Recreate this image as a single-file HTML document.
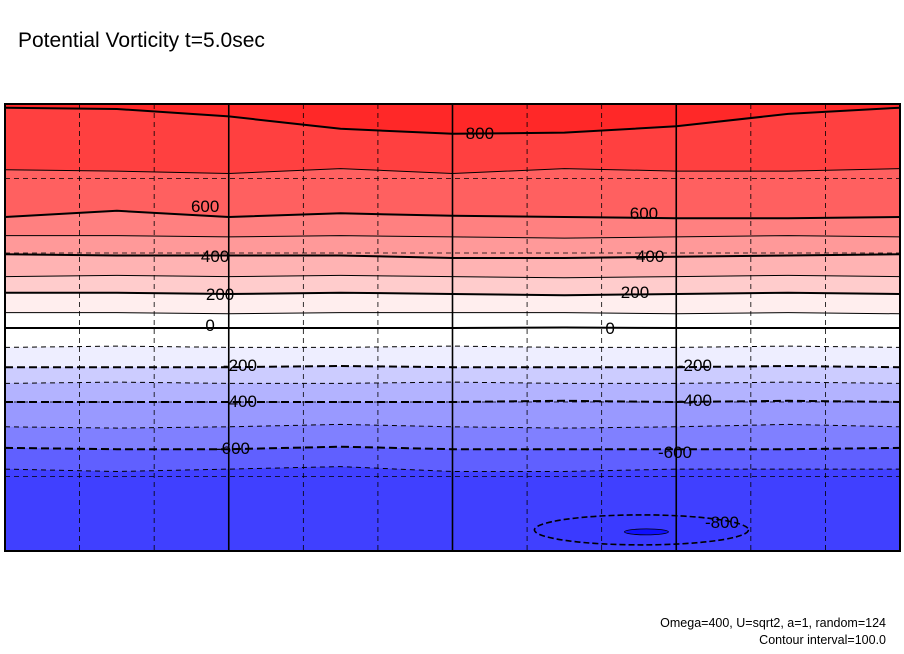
<!DOCTYPE html>
<html><head><meta charset="utf-8">
<style>
body{margin:0;background:#fff;width:904px;height:654px;overflow:hidden;font-family:"Liberation Sans",sans-serif}
svg{display:block}
</style></head>
<body>
<svg id="chart" width="904" height="654" viewBox="0 0 904 654">
<text x="18" y="47" font-size="21" font-family="Liberation Sans, sans-serif" fill="#000">Potential Vorticity t=5.0sec</text>
<g id="plot"></g>
<text x="886" y="627" font-size="12.5" text-anchor="end" fill="#000">Omega=400, U=sqrt2, a=1, random=124</text>
<text x="886" y="644" font-size="12.5" text-anchor="end" fill="#000">Contour interval=100.0</text>
</svg>
<script>
const levels=[-700,-600,-500,-400,-300,-200,-100,0,100,200,300,400,500,600,700,800];
const lons=[0,45,90,135,180,225,270,315,360];
const lat_m700=[-57,-58,-57,-56,-58,-58,-57,-57,-57];
const lat_m600=[-48.5,-49,-49,-48,-49,-49,-49,-49,-48.5];
const lat_m500=[-40,-40.5,-40,-39,-40,-40.5,-40,-39,-40];
const lat_m400=[-30,-30,-30,-30,-30,-29.5,-30,-29.5,-30];
const lat_m300=[-22.5,-22,-22.5,-22.5,-22,-22.5,-22.5,-22,-22.5];
const lat_m200=[-16,-16,-16,-15.5,-16,-16,-16,-15.5,-16];
const lat_m100=[-8,-7.5,-8,-8,-7.5,-8,-8,-7.5,-8];
const lat_0=[-0.2,-0.2,-0.2,-0.2,-0.2,0,-0.2,-0.2,-0.2];
const lat_100=[6,6,5.5,6,6,6,5.5,6,5.5];
const lat_200=[14,14,13.5,14,13.5,13,13.5,14,13.5];
const lat_300=[20.5,21,20.5,21,20.5,20,20.5,21,20.5];
const lat_400=[29.5,29,29,29,28,28,28.5,29,29.5];
const lat_500=[37,37,36.5,37,36.5,36,36.5,37,36.5];
const lat_600=[44.5,47,44.5,46,45,44.5,44,44,44.5];
const lat_700=[63.5,63,62,64,62,64,63,63,64];
const lat_800=[88.5,88,85,80,78,78.5,81,86,88.5];
const lines=[lat_m700,lat_m600,lat_m500,lat_m400,lat_m300,lat_m200,lat_m100,lat_0,lat_100,lat_200,lat_300,lat_400,lat_500,lat_600,lat_700,lat_800];
const bandColors=["#4040ff","#6060ff","#8080ff","#9999ff","#b3b3ff","#ccccff","#eeeeff","#ffffff","#ffffff","#ffeeee","#ffcccc","#ffb3b3","#ff9999","#ff8080","#ff6060","#ff4040","#ff2828"];
const labelLevels=[800,600,600,400,400,200,200,0,0,-200,-200,-400,-400,-600,-600,-800];
const labelLons=[191,80.5,257,84.5,259.5,86.5,253.4,82.5,243.4,94.5,277.5,94.5,277.5,91.7,269.5,288.4];
const labelLats=[78.4,49,46.2,28.8,28.8,13.5,14.3,1,-0.2,-15.1,-15.1,-29.6,-29.2,-48.5,-50.1,-78.3];
const minLevel=[-800], minLon=[256], minLat=[-81.5];
const X0=5,X1=900,Y0=104,Y1=551;
const xS=l=>X0+(l/360)*(X1-X0);
const yS=a=>Y0+(90-a)/180*(Y1-Y0);
const NS="http://www.w3.org/2000/svg";
const g=document.getElementById('plot');
function mk(t,a){const e=document.createElementNS(NS,t);for(const k in a)e.setAttribute(k,a[k]);g.appendChild(e);return e;}
function linePts(arr){return arr.map((a,i)=>xS(lons[i]).toFixed(1)+','+yS(a).toFixed(1));}
let bg=mk('rect',{x:X0,y:Y0,width:X1-X0,height:Y1-Y0,fill:bandColors[0]});


lines.forEach((arr,i)=>{
  const p=mk('polygon',{points:xS(0)+','+Y0+' '+linePts(arr).join(' ')+' '+xS(360)+','+Y0,fill:bandColors[i+1]});
  
  
});
minLevel.forEach((v,i)=>{
  const e=mk('ellipse',{cx:xS(minLon[i]),cy:yS(minLat[i]),rx:107,ry:15,fill:'#3a3aff',stroke:'#000','stroke-width':1.6,'stroke-dasharray':'6,3'});
  
  
  const e2=mk('ellipse',{cx:xS(minLon[i])+5,cy:yS(minLat[i])+2,rx:22,ry:3,fill:'#1010ff',stroke:'#000','stroke-width':0.8});
  
  
});
lines.forEach((arr,i)=>{
  const lv=levels[i];
  const thick=(lv%200===0);
  const a={points:linePts(arr).join(' '),fill:'none',stroke:'#000','stroke-width':thick?2:1};
  if(lv<0)a['stroke-dasharray']=thick?'8,4':'5,4';
  const p=mk('polyline',a);
  
  
});
[30,60,120,150,210,240,300,330].forEach(l=>{const e=mk('line',{x1:xS(l),x2:xS(l),y1:Y0,y2:Y1,stroke:'#000','stroke-width':0.8,'stroke-dasharray':'5,4'});
});
[90,180,270].forEach(l=>{const e=mk('line',{x1:xS(l),x2:xS(l),y1:Y0,y2:Y1,stroke:'#000','stroke-width':1.6});
});
[60,30,0,-30,-60].forEach(a=>{const e=mk('line',{x1:X0,x2:X1,y1:yS(a),y2:yS(a),stroke:'#000','stroke-width':0.8,'stroke-dasharray':'5,4'});
});
labelLevels.forEach((v,i)=>{
  const t=mk('text',{x:xS(labelLons[i]),y:yS(labelLats[i])+6,'font-size':17,'text-anchor':'middle',fill:'#000'});
  t.textContent=v;
  
  
});
const fr=mk('rect',{x:X0,y:Y0,width:X1-X0,height:Y1-Y0,fill:'none',stroke:'#000','stroke-width':2});


</script>
</body></html>
